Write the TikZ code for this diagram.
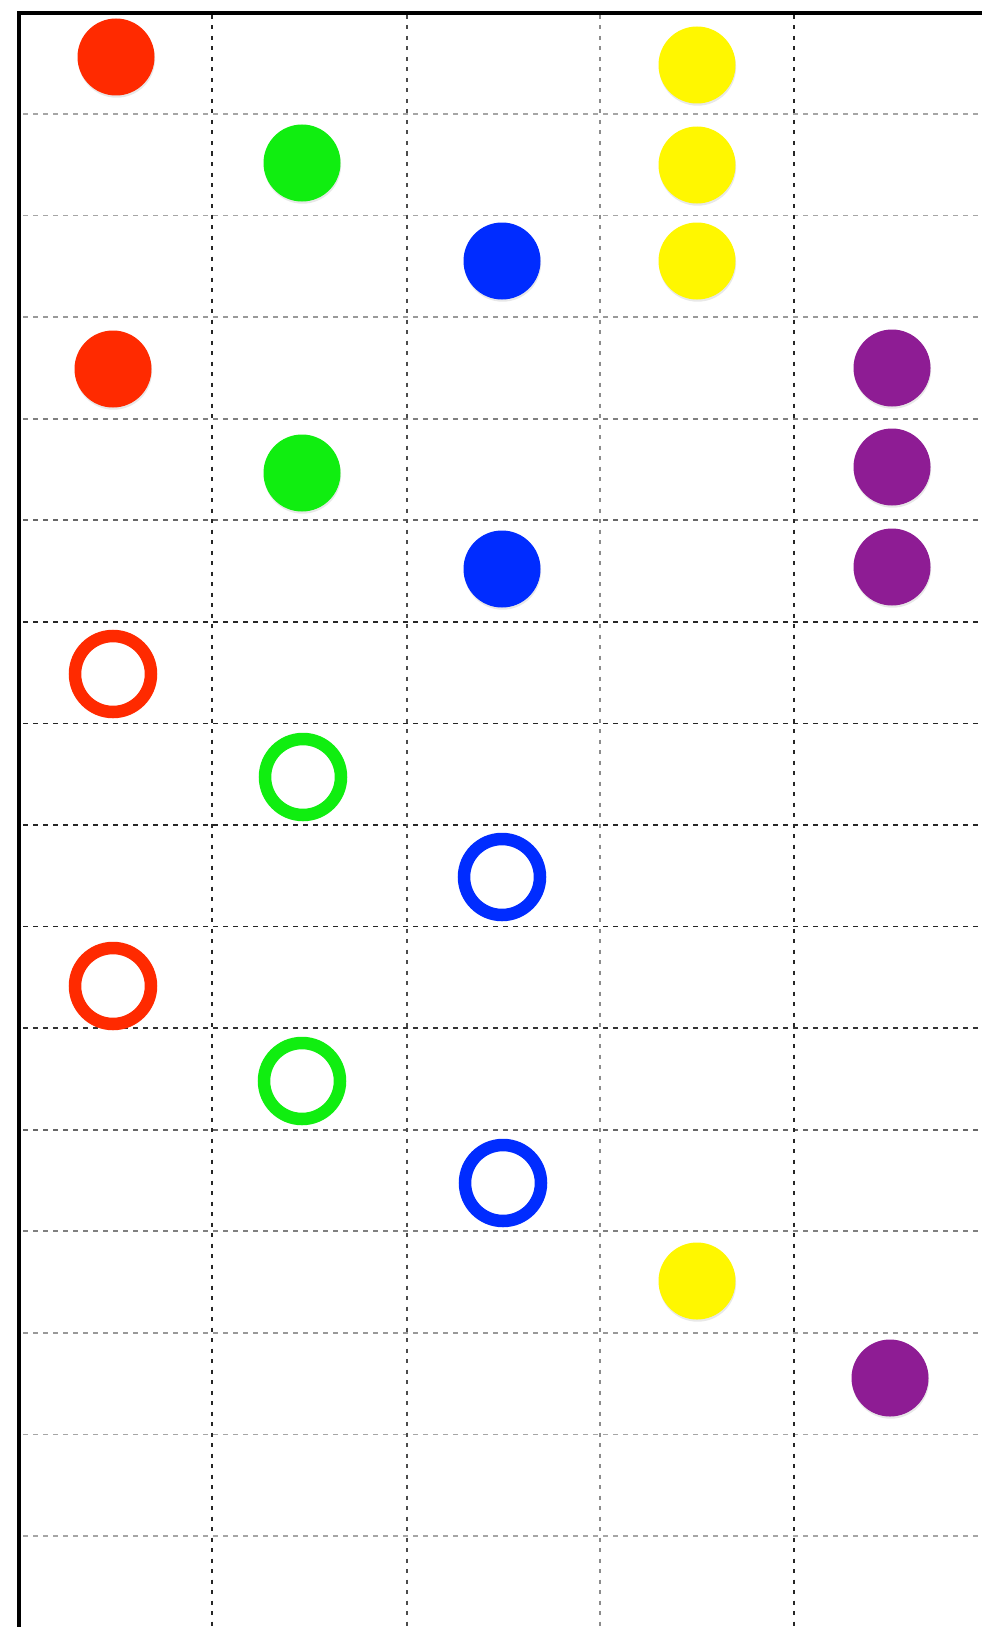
\documentclass[tikz,border=0pt]{standalone}
\usetikzlibrary{shadows}
\definecolor{cred}{RGB}{255,42,0}
\definecolor{cgreen}{RGB}{16,238,16}
\definecolor{cblue}{RGB}{0,44,255}
\definecolor{cyellow}{RGB}{255,247,0}
\definecolor{cpurple}{RGB}{142,28,148}
\begin{document}
\begin{tikzpicture}[x=1pt,y=-1pt,
  dot/.style={circle,inner sep=0pt,minimum size=77pt,fill=#1,
    drop shadow={opacity=0.18,shadow xshift=0.6pt,shadow yshift=-2.2pt}},
  ring/.style={circle,inner sep=0pt,minimum size=76pt,draw=#1,line width=12.5pt},
  hgrid/.style={draw=#1,line width=1.6pt,dash pattern=on 5pt off 5pt},
  vgrid/.style={draw=#1,line width=1.6pt,dash pattern=on 4pt off 6.5pt},
  frame/.style={draw=black,line width=3.6pt}]
\useasboundingbox (0,0) rectangle (982,1627);
\fill[white] (0,0) rectangle (982,1627);
% horizontal grid lines
\foreach \k/\c in {1/black!35,2/black!35,3/black!40,4/black!50,5/black!60,
                   6/black!85,7/black!85,8/black!85,9/black!85,10/black!80,
                   11/black!60,12/black!50,13/black!40,14/black!35,15/black!35}{
  \draw[hgrid=\c] (23,{114+101.57*(\k-1)}) -- (982,{114+101.57*(\k-1)});
}
% vertical grid lines
\foreach \x/\c in {212/black!85,407/black!70,600/black!45,794/black!85}{
  \draw[vgrid=\c] (\x,15) -- (\x,1627);
}
% frame
\draw[frame] (19,1627) -- (19,13) -- (982,13);
% filled dots
\node[dot=cred] (r1) at (116,57) {};
\node[dot=cyellow] (y1) at (697,65) {};
\node[dot=cgreen] (g1) at (302,163) {};
\node[dot=cyellow] (y2) at (697,165) {};
\node[dot=cblue] (b1) at (502,261) {};
\node[dot=cyellow] (y3) at (697,261) {};
\node[dot=cred] (r2) at (113,369) {};
\node[dot=cpurple] (p1) at (892,368) {};
\node[dot=cgreen] (g2) at (302,473) {};
\node[dot=cpurple] (p2) at (892,467) {};
\node[dot=cblue] (b2) at (502,569) {};
\node[dot=cpurple] (p3) at (892,567) {};
% rings
\node[ring=cred] (rr1) at (113,674) {};
\node[ring=cgreen] (gr1) at (303,777) {};
\node[ring=cblue] (br1) at (502,877) {};
\node[ring=cred] (rr2) at (113,986) {};
\node[ring=cgreen] (gr2) at (302,1081) {};
\node[ring=cblue] (br2) at (503,1183) {};
% bottom dots
\node[dot=cyellow] (y4) at (697,1281) {};
\node[dot=cpurple] (p4) at (890,1378) {};
\end{tikzpicture}
\end{document}
